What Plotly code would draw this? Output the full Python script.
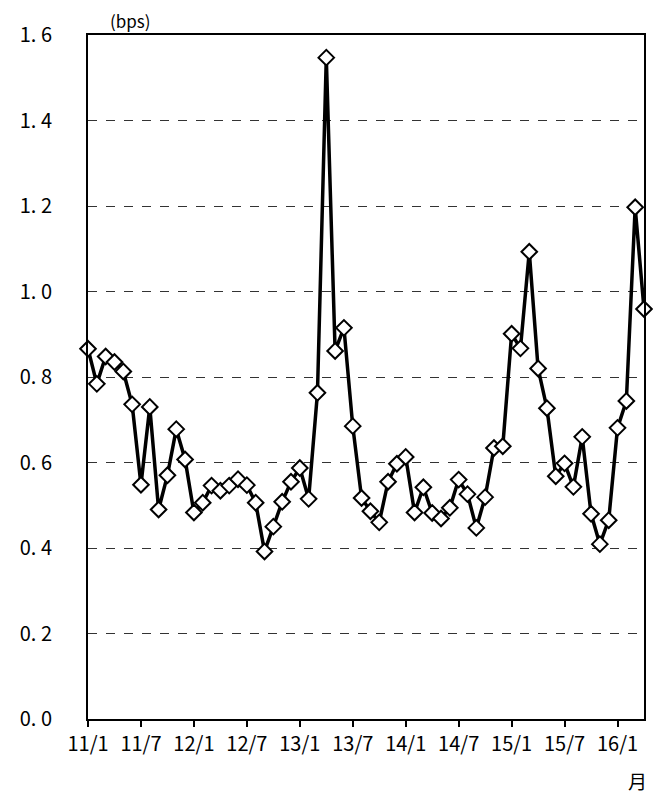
import plotly.graph_objects as go

values = [0.866, 0.784, 0.848, 0.835, 0.813, 0.736, 0.548, 0.730, 0.490, 0.570,
          0.678, 0.607, 0.483, 0.506, 0.546, 0.534, 0.546, 0.561, 0.547, 0.506,
          0.392, 0.450, 0.508, 0.555, 0.587, 0.515, 0.763, 1.547, 0.861, 0.915,
          0.685, 0.517, 0.486, 0.460, 0.555, 0.597, 0.613, 0.483, 0.542, 0.482,
          0.469, 0.494, 0.560, 0.526, 0.447, 0.519, 0.634, 0.638, 0.901, 0.867,
          1.093, 0.820, 0.727, 0.568, 0.598, 0.543, 0.660, 0.480, 0.409, 0.465,
          0.681, 0.744, 1.197, 0.959]
months = list(range(len(values)))
x_tick_vals = [0, 6, 12, 18, 24, 30, 36, 42, 48, 54, 60]
x_tick_text = ["11/1", "11/7", "12/1", "12/7", "13/1", "13/7", "14/1", "14/7", "15/1", "15/7", "16/1"]
y_tick_vals = [0.0, 0.2, 0.4, 0.6, 0.8, 1.0, 1.2, 1.4, 1.6]
y_tick_text = ["0. 0", "0. 2", "0. 4", "0. 6", "0. 8", "1. 0", "1. 2", "1. 4", "1. 6"]

FONT = "Noto Sans CJK JP"

fig = go.Figure()
fig.add_trace(go.Scatter(
    x=months, y=values, mode="lines+markers",
    line=dict(color="black", width=3.5),
    marker=dict(symbol="diamond", size=12, color="white",
                line=dict(color="black", width=2)),
    cliponaxis=False, showlegend=False,
))

fig.update_layout(
    width=653, height=796,
    margin=dict(l=88, r=7, t=35, b=77),
    paper_bgcolor="white", plot_bgcolor="white",
    font=dict(family=FONT, size=19, color="black"),
    xaxis=dict(range=[0, 63], tickvals=x_tick_vals, ticktext=x_tick_text,
               showgrid=False, zeroline=False, showline=True, linecolor="black",
               linewidth=2, mirror=True, ticks="outside", ticklen=6,
               tickwidth=2, tickcolor="black", tickfont=dict(size=20, family=FONT)),
    yaxis=dict(range=[0, 1.6], tickvals=y_tick_vals, ticktext=y_tick_text,
               showgrid=True, gridcolor="#333333", griddash="dash", gridwidth=1,
               zeroline=False, showline=True, linecolor="black", linewidth=2,
               mirror=True, ticks="", ticklabelstandoff=30,
               tickfont=dict(size=20, family=FONT)),
    annotations=[
        dict(text="(bps)", xref="paper", yref="paper", x=(131 - 88) / 558,
             y=(719 - 20) / 684, xanchor="center", yanchor="middle",
             showarrow=False, font=dict(size=17, family=FONT)),
        dict(text="月", xref="paper", yref="paper", x=(651 - 88) / 558,
             y=(719 - 781) / 684, xanchor="right", yanchor="middle",
             showarrow=False, font=dict(size=19, family=FONT)),
    ],
)

fig.write_html("out.html", config={"displayModeBar": False},
               post_script="document.body.style.margin='0';document.body.style.overflow='hidden';")
